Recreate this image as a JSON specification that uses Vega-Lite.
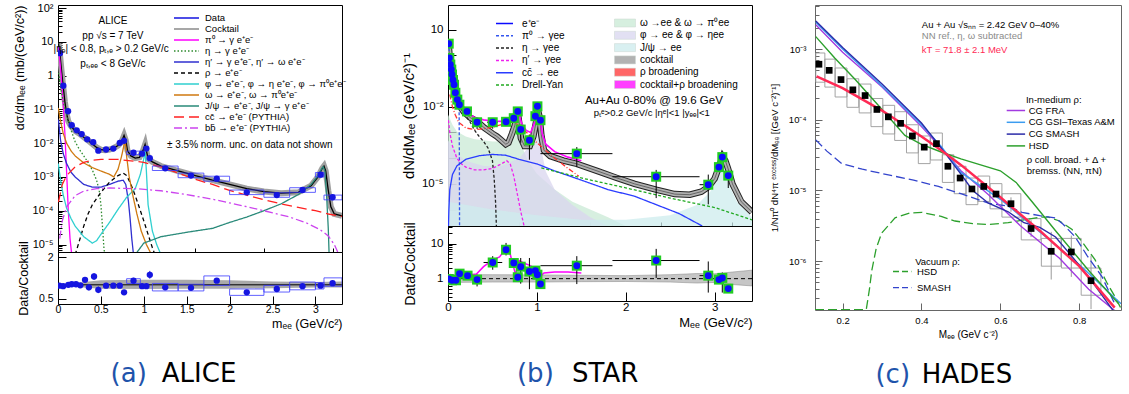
{
"$schema":"https://vega.github.io/schema/vega-lite/v6.json",
"background":"white",
"padding":{"left":12,"top":0,"right":0,"bottom":0},
"config":{
 "view":{"stroke":"black","strokeWidth":1},
 "font":"Liberation Sans",
 "axis":{"domain":false,"grid":false,"tickColor":"black","labelColor":"black","titleColor":"black","labelFont":"Liberation Sans","titleFont":"Liberation Sans","titleFontWeight":"normal","labelOverlap":false,"labelFlush":false,"tickWidth":1},
 "legend":{"labelFont":"Liberation Sans","labelColor":"black","padding":0,"labelLimit":300}
},
"resolve":{"scale":{"color":"independent","fill":"independent","stroke":"independent","strokeDash":"independent"},"legend":{"color":"independent","fill":"independent","stroke":"independent","strokeDash":"independent"}},
"datasets":{
"aData":[{"x":0.023,"y":4.6},{"x":0.062,"y":0.5},{"x":0.117,"y":0.088},{"x":0.16,"y":0.034},{"x":0.218,"y":0.024},{"x":0.276,"y":0.0186},{"x":0.34,"y":0.013},{"x":0.41,"y":0.0107},{"x":0.47,"y":0.006},{"x":0.56,"y":0.0065},{"x":0.645,"y":0.0069},{"x":0.72,"y":0.0102},{"x":0.77,"y":0.0117},{"x":0.88,"y":0.0052},{"x":0.98,"y":0.0049},{"x":1.03,"y":0.0069},{"x":1.07,"y":0.0036},{"x":1.25,"y":0.0018},{"x":1.55,"y":0.0011},{"x":1.85,"y":0.00089},{"x":2.2,"y":0.00035},{"x":2.55,"y":0.00029},{"x":2.85,"y":0.00041},{"x":3.06,"y":0.00117},{"x":3.2,"y":0.00025}],
"aBox":[{"x1":0.8,"x2":0.96,"lo":0.0046,"hi":0.0058},{"x1":1.1,"x2":1.4,"lo":0.00155,"hi":0.0021},{"x1":1.4,"x2":1.7,"lo":0.00095,"hi":0.0013},{"x1":1.7,"x2":2.0,"lo":0.00075,"hi":0.00105},{"x1":2.0,"x2":2.4,"lo":0.0003,"hi":0.00041},{"x1":2.4,"x2":2.7,"lo":0.00025,"hi":0.00034},{"x1":2.7,"x2":3.0,"lo":0.00035,"hi":0.00048},{"x1":3.0,"x2":3.1,"lo":0.001,"hi":0.00135},{"x1":3.1,"x2":3.31,"lo":0.00021,"hi":0.00029}],
"aCock":[{"x":0.005,"y":9},{"x":0.02,"y":5},{"x":0.04,"y":1.5},{"x":0.06,"y":0.5},{"x":0.08,"y":0.17},{"x":0.1,"y":0.075},{"x":0.12,"y":0.045},{"x":0.15,"y":0.032},{"x":0.2,"y":0.023},{"x":0.25,"y":0.019},{"x":0.3,"y":0.015},{"x":0.35,"y":0.012},{"x":0.4,"y":0.0095},{"x":0.45,"y":0.0075},{"x":0.5,"y":0.0064},{"x":0.55,"y":0.0062},{"x":0.6,"y":0.0065},{"x":0.65,"y":0.0072},{"x":0.7,"y":0.0085},{"x":0.74,"y":0.011},{"x":0.77,"y":0.017},{"x":0.79,"y":0.012},{"x":0.81,"y":0.006},{"x":0.85,"y":0.0042},{"x":0.9,"y":0.0036},{"x":0.95,"y":0.0038},{"x":0.99,"y":0.006},{"x":1.015,"y":0.0092},{"x":1.03,"y":0.006},{"x":1.05,"y":0.0035},{"x":1.1,"y":0.0028},{"x":1.2,"y":0.0021},{"x":1.4,"y":0.0015},{"x":1.6,"y":0.0011},{"x":1.8,"y":0.0008},{"x":2.0,"y":0.0006},{"x":2.2,"y":0.00045},{"x":2.4,"y":0.00037},{"x":2.6,"y":0.00033},{"x":2.8,"y":0.00035},{"x":2.95,"y":0.00055},{"x":3.03,"y":0.001},{"x":3.08,"y":0.0018},{"x":3.1,"y":0.0021},{"x":3.12,"y":0.0015},{"x":3.15,"y":0.0004},{"x":3.18,"y":0.00013},{"x":3.22,"y":0.00008},{"x":3.31,"y":0.00007}],
"aCurves":[
{"s":"pi0","x":0.003,"y":7},{"s":"pi0","x":0.02,"y":3},{"s":"pi0","x":0.04,"y":0.8},{"s":"pi0","x":0.06,"y":0.15},{"s":"pi0","x":0.08,"y":0.02},{"s":"pi0","x":0.1,"y":0.0015},{"s":"pi0","x":0.12,"y":0.0001},{"s":"pi0","x":0.14,"y":1.5e-5},{"s":"pi0","x":0.16,"y":5e-6},
{"s":"eta","x":0.005,"y":1.2},{"s":"eta","x":0.03,"y":0.45},{"s":"eta","x":0.06,"y":0.17},{"s":"eta","x":0.1,"y":0.07},{"s":"eta","x":0.15,"y":0.025},{"s":"eta","x":0.2,"y":0.011},{"s":"eta","x":0.25,"y":0.0065},{"s":"eta","x":0.3,"y":0.0042},{"s":"eta","x":0.35,"y":0.0027},{"s":"eta","x":0.4,"y":0.0016},{"s":"eta","x":0.45,"y":0.0008},{"s":"eta","x":0.48,"y":0.0004},{"s":"eta","x":0.5,"y":0.00015},{"s":"eta","x":0.52,"y":3e-5},{"s":"eta","x":0.535,"y":8e-6},{"s":"eta","x":0.545,"y":5e-6},
{"s":"etap","x":0.005,"y":0.05},{"s":"etap","x":0.03,"y":0.012},{"s":"etap","x":0.06,"y":0.005},{"s":"etap","x":0.1,"y":0.0025},{"s":"etap","x":0.15,"y":0.0014},{"s":"etap","x":0.2,"y":0.001},{"s":"etap","x":0.3,"y":0.0006},{"s":"etap","x":0.4,"y":0.0005},{"s":"etap","x":0.5,"y":0.0005},{"s":"etap","x":0.6,"y":0.0006},{"s":"etap","x":0.7,"y":0.00075},{"s":"etap","x":0.76,"y":0.0008},{"s":"etap","x":0.79,"y":0.0006},{"s":"etap","x":0.82,"y":0.0002},{"s":"etap","x":0.84,"y":6e-5},{"s":"etap","x":0.86,"y":1.5e-5},{"s":"etap","x":0.88,"y":5e-6},
{"s":"rho","x":0.2,"y":5e-6},{"s":"rho","x":0.25,"y":1.3e-5},{"s":"rho","x":0.3,"y":3.5e-5},{"s":"rho","x":0.35,"y":8e-5},{"s":"rho","x":0.4,"y":0.00015},{"s":"rho","x":0.5,"y":0.00035},{"s":"rho","x":0.6,"y":0.0007},{"s":"rho","x":0.7,"y":0.0011},{"s":"rho","x":0.76,"y":0.0013},{"s":"rho","x":0.8,"y":0.0011},{"s":"rho","x":0.85,"y":0.0006},{"s":"rho","x":0.9,"y":0.00028},{"s":"rho","x":0.95,"y":0.00012},{"s":"rho","x":1.0,"y":5e-5},{"s":"rho","x":1.05,"y":2e-5},{"s":"rho","x":1.1,"y":8e-6},{"s":"rho","x":1.13,"y":5e-6},
{"s":"phi","x":0.003,"y":0.0025},{"s":"phi","x":0.03,"y":0.0008},{"s":"phi","x":0.06,"y":0.0003},{"s":"phi","x":0.1,"y":0.00012},{"s":"phi","x":0.15,"y":6e-5},{"s":"phi","x":0.2,"y":3.5e-5},{"s":"phi","x":0.3,"y":1.7e-5},{"s":"phi","x":0.4,"y":1.1e-5},{"s":"phi","x":0.45,"y":1.3e-5},{"s":"phi","x":0.5,"y":2e-5},{"s":"phi","x":0.6,"y":4.5e-5},{"s":"phi","x":0.7,"y":0.00011},{"s":"phi","x":0.8,"y":0.00025},{"s":"phi","x":0.9,"y":0.00045},{"s":"phi","x":0.96,"y":0.0012},{"s":"phi","x":1.0,"y":0.0035},{"s":"phi","x":1.015,"y":0.006},{"s":"phi","x":1.03,"y":0.0015},{"s":"phi","x":1.05,"y":0.00015},{"s":"phi","x":1.1,"y":2.5e-5},{"s":"phi","x":1.15,"y":1e-5},{"s":"phi","x":1.2,"y":5e-6},
{"s":"omega","x":0.003,"y":0.11},{"s":"omega","x":0.03,"y":0.045},{"s":"omega","x":0.06,"y":0.02},{"s":"omega","x":0.1,"y":0.01},{"s":"omega","x":0.15,"y":0.006},{"s":"omega","x":0.2,"y":0.0042},{"s":"omega","x":0.3,"y":0.0026},{"s":"omega","x":0.4,"y":0.0019},{"s":"omega","x":0.5,"y":0.0015},{"s":"omega","x":0.6,"y":0.0012},{"s":"omega","x":0.65,"y":0.001},{"s":"omega","x":0.7,"y":0.0017},{"s":"omega","x":0.74,"y":0.004},{"s":"omega","x":0.77,"y":0.009},{"s":"omega","x":0.785,"y":0.011},{"s":"omega","x":0.8,"y":0.004},{"s":"omega","x":0.83,"y":0.001},{"s":"omega","x":0.87,"y":0.0003},{"s":"omega","x":0.92,"y":8e-5},{"s":"omega","x":0.97,"y":2.5e-5},{"s":"omega","x":1.03,"y":1e-5},{"s":"omega","x":1.09,"y":5e-6},
{"s":"jpsi","x":0.9,"y":5e-6},{"s":"jpsi","x":1.0,"y":1.1e-5},{"s":"jpsi","x":1.2,"y":1.7e-5},{"s":"jpsi","x":1.5,"y":2.3e-5},{"s":"jpsi","x":1.8,"y":3e-5},{"s":"jpsi","x":2.0,"y":4.5e-5},{"s":"jpsi","x":2.2,"y":6.5e-5},{"s":"jpsi","x":2.4,"y":0.0001},{"s":"jpsi","x":2.6,"y":0.00016},{"s":"jpsi","x":2.8,"y":0.0003},{"s":"jpsi","x":2.95,"y":0.0006},{"s":"jpsi","x":3.03,"y":0.0011},{"s":"jpsi","x":3.07,"y":0.0017},{"s":"jpsi","x":3.09,"y":0.002},{"s":"jpsi","x":3.11,"y":0.0015},{"s":"jpsi","x":3.13,"y":0.0003},{"s":"jpsi","x":3.15,"y":3e-5},{"s":"jpsi","x":3.16,"y":5e-6},
{"s":"cc","x":0.005,"y":0.00018},{"s":"cc","x":0.05,"y":0.0006},{"s":"cc","x":0.1,"y":0.0011},{"s":"cc","x":0.2,"y":0.002},{"s":"cc","x":0.3,"y":0.0027},{"s":"cc","x":0.4,"y":0.0031},{"s":"cc","x":0.5,"y":0.0033},{"s":"cc","x":0.7,"y":0.0033},{"s":"cc","x":0.85,"y":0.003},{"s":"cc","x":1.0,"y":0.0027},{"s":"cc","x":1.2,"y":0.002},{"s":"cc","x":1.4,"y":0.0013},{"s":"cc","x":1.6,"y":0.00085},{"s":"cc","x":1.8,"y":0.0006},{"s":"cc","x":2.0,"y":0.0004},{"s":"cc","x":2.2,"y":0.00029},{"s":"cc","x":2.4,"y":0.00021},{"s":"cc","x":2.6,"y":0.00016},{"s":"cc","x":2.8,"y":0.000125},{"s":"cc","x":3.0,"y":0.0001},{"s":"cc","x":3.15,"y":8e-5},{"s":"cc","x":3.31,"y":6.8e-5},
{"s":"bb","x":0.02,"y":1.5e-5},{"s":"bb","x":0.05,"y":5e-5},{"s":"bb","x":0.1,"y":0.00013},{"s":"bb","x":0.2,"y":0.00028},{"s":"bb","x":0.3,"y":0.00038},{"s":"bb","x":0.45,"y":0.00045},{"s":"bb","x":0.6,"y":0.00047},{"s":"bb","x":0.9,"y":0.00045},{"s":"bb","x":1.2,"y":0.00039},{"s":"bb","x":1.5,"y":0.0003},{"s":"bb","x":1.8,"y":0.00022},{"s":"bb","x":2.1,"y":0.00015},{"s":"bb","x":2.4,"y":0.0001},{"s":"bb","x":2.7,"y":6.5e-5},{"s":"bb","x":2.9,"y":4.3e-5},{"s":"bb","x":3.05,"y":2.8e-5},{"s":"bb","x":3.15,"y":1.8e-5},{"s":"bb","x":3.22,"y":1e-5},{"s":"bb","x":3.26,"y":6e-6}],
"aRatio":[{"x":0.015,"r":0.97},{"x":0.06,"r":0.95},{"x":0.12,"r":1.0},{"x":0.16,"r":1.02},{"x":0.21,"r":1.02},{"x":0.26,"r":0.98},{"x":0.315,"r":1.18,"lo":1.1,"hi":1.26},{"x":0.36,"r":0.91,"lo":0.8,"hi":1.02},{"x":0.42,"r":1.3,"lo":1.18,"hi":1.42},{"x":0.47,"r":0.82,"lo":0.7,"hi":0.94},{"x":0.56,"r":0.97},{"x":0.645,"r":0.97},{"x":0.72,"r":0.97},{"x":0.77,"r":0.73},{"x":0.88,"r":1.15,"lo":1.05,"hi":1.25},{"x":0.98,"r":0.95},{"x":1.03,"r":0.95},{"x":1.07,"r":1.36,"lo":1.22,"hi":1.5},{"x":1.25,"r":0.91},{"x":1.55,"r":0.89},{"x":1.85,"r":1.15},{"x":2.2,"r":0.73},{"x":2.55,"r":0.85},{"x":2.85,"r":0.95},{"x":3.06,"r":0.97},{"x":3.2,"r":1.06}],
"aRBox":[{"x1":0.8,"x2":0.96,"lo":1.05,"hi":1.22},{"x1":1.1,"x2":1.4,"lo":0.78,"hi":1.05},{"x1":1.4,"x2":1.7,"lo":0.78,"hi":1.02},{"x1":1.7,"x2":2.0,"lo":0.98,"hi":1.32},{"x1":2.0,"x2":2.4,"lo":0.62,"hi":0.85},{"x1":2.4,"x2":2.7,"lo":0.74,"hi":0.98},{"x1":2.7,"x2":3.0,"lo":0.82,"hi":1.1},{"x1":3.0,"x2":3.1,"lo":0.85,"hi":1.08},{"x1":3.1,"x2":3.31,"lo":0.95,"hi":1.25}],
"aBand":[{"x":0,"lo":0.96,"hi":1.04},{"x":0.2,"lo":0.95,"hi":1.05},{"x":0.3,"lo":0.9,"hi":1.1},{"x":0.5,"lo":0.86,"hi":1.16},{"x":1.0,"lo":0.85,"hi":1.18},{"x":1.5,"lo":0.86,"hi":1.18},{"x":2.0,"lo":0.86,"hi":1.16},{"x":2.5,"lo":0.88,"hi":1.12},{"x":3.0,"lo":0.9,"hi":1.1},{"x":3.31,"lo":0.9,"hi":1.12}],
"sData":[{"x":0.008,"y":2.85},{"x":0.015,"y":0.79},{"x":0.026,"y":0.44},{"x":0.037,"y":0.28},{"x":0.045,"y":0.18},{"x":0.056,"y":0.11},{"x":0.068,"y":0.072},{"x":0.083,"y":0.035},{"x":0.105,"y":0.019},{"x":0.128,"y":0.012},{"x":0.214,"y":0.0066,"xlo":0.16,"xhi":0.27},{"x":0.327,"y":0.0025,"lo":0.00137,"hi":0.0037,"xlo":0.27,"xhi":0.38},{"x":0.503,"y":0.0025,"lo":0.0014,"hi":0.0036,"xlo":0.44,"xhi":0.56},{"x":0.653,"y":0.0026,"lo":0.0019,"hi":0.0034},{"x":0.74,"y":0.0036},{"x":0.785,"y":0.0066},{"x":0.818,"y":0.0013,"lo":0.0004,"hi":0.002},{"x":0.916,"y":0.0005,"lo":8.7e-5,"hi":0.0008},{"x":0.983,"y":0.0043},{"x":1.006,"y":0.0104},{"x":1.04,"y":0.003},{"x":1.449,"y":0.00015,"lo":4.6e-5,"hi":0.00027,"xlo":1.04,"xhi":1.85},{"x":2.342,"y":1.9e-5,"lo":2.8e-6,"hi":3.5e-5,"xlo":1.85,"xhi":2.83},{"x":2.928,"y":9.3e-6,"lo":1.6e-6,"hi":2.3e-5,"xlo":2.83,"xhi":2.97},{"x":3.048,"y":4.5e-5},{"x":3.086,"y":0.00011},{"x":3.153,"y":2.1e-5,"lo":6.9e-6,"hi":3.1e-5}],
"sCock":[{"x":0.005,"y":3.2},{"x":0.02,"y":0.75},{"x":0.04,"y":0.22},{"x":0.06,"y":0.075},{"x":0.08,"y":0.035},{"x":0.1,"y":0.02},{"x":0.13,"y":0.011},{"x":0.18,"y":0.0062},{"x":0.25,"y":0.0038},{"x":0.33,"y":0.0027},{"x":0.4,"y":0.0016},{"x":0.45,"y":0.0012},{"x":0.5,"y":0.0009},{"x":0.55,"y":0.0007},{"x":0.6,"y":0.0005},{"x":0.65,"y":0.00035},{"x":0.68,"y":0.0004},{"x":0.72,"y":0.0009},{"x":0.75,"y":0.0018},{"x":0.77,"y":0.0035},{"x":0.785,"y":0.006},{"x":0.8,"y":0.0025},{"x":0.82,"y":0.0006},{"x":0.86,"y":0.0003},{"x":0.92,"y":0.0003},{"x":0.96,"y":0.0007},{"x":0.99,"y":0.0025},{"x":1.01,"y":0.008},{"x":1.03,"y":0.004},{"x":1.05,"y":0.0008},{"x":1.08,"y":0.0002},{"x":1.15,"y":0.00012},{"x":1.3,"y":8e-5},{"x":1.45,"y":6e-5},{"x":1.7,"y":3e-5},{"x":1.9,"y":1.7e-5},{"x":2.1,"y":1e-5},{"x":2.34,"y":6e-6},{"x":2.55,"y":4e-6},{"x":2.72,"y":3.8e-6},{"x":2.85,"y":5e-6},{"x":2.93,"y":7.6e-6},{"x":3.0,"y":1.6e-5},{"x":3.05,"y":4.8e-5},{"x":3.09,"y":0.000115},{"x":3.12,"y":8e-5},{"x":3.15,"y":4e-5},{"x":3.2,"y":1e-5},{"x":3.3,"y":2e-6},{"x":3.42,"y":8e-7}],
"sExtra":[
{"s":"rhob","x":0.02,"y":0.03},{"s":"rhob","x":0.05,"y":0.01},{"s":"rhob","x":0.08,"y":0.005},{"s":"rhob","x":0.12,"y":0.0025},{"s":"rhob","x":0.2,"y":0.0015},{"s":"rhob","x":0.3,"y":0.0013},{"s":"rhob","x":0.4,"y":0.0014},{"s":"rhob","x":0.5,"y":0.0016},{"s":"rhob","x":0.6,"y":0.002},{"s":"rhob","x":0.7,"y":0.0024},{"s":"rhob","x":0.75,"y":0.0025},{"s":"rhob","x":0.8,"y":0.0018},{"s":"rhob","x":0.9,"y":0.0009},{"s":"rhob","x":1.0,"y":0.0004},{"s":"rhob","x":1.1,"y":0.0002},{"s":"rhob","x":1.2,"y":0.0001},{"s":"rhob","x":1.35,"y":4e-5},{"s":"rhob","x":1.47,"y":2e-5},
{"s":"cockrho","x":0.2,"y":0.0065},{"s":"cockrho","x":0.3,"y":0.0038},{"s":"cockrho","x":0.4,"y":0.0031},{"s":"cockrho","x":0.5,"y":0.0028},{"s":"cockrho","x":0.6,"y":0.0027},{"s":"cockrho","x":0.65,"y":0.0028},{"s":"cockrho","x":0.7,"y":0.0033},{"s":"cockrho","x":0.75,"y":0.0045},{"s":"cockrho","x":0.785,"y":0.0075},{"s":"cockrho","x":0.8,"y":0.005},{"s":"cockrho","x":0.83,"y":0.0022},{"s":"cockrho","x":0.88,"y":0.0012},{"s":"cockrho","x":0.93,"y":0.001},{"s":"cockrho","x":0.98,"y":0.0028},{"s":"cockrho","x":1.01,"y":0.0105},{"s":"cockrho","x":1.03,"y":0.005},{"s":"cockrho","x":1.06,"y":0.0009},{"s":"cockrho","x":1.1,"y":0.00035},{"s":"cockrho","x":1.2,"y":0.00018},{"s":"cockrho","x":1.35,"y":0.00011},{"s":"cockrho","x":1.5,"y":8e-5}],
"sLines":[
{"s":"pi0","x":0.005,"y":3},{"s":"pi0","x":0.03,"y":0.5},{"s":"pi0","x":0.06,"y":0.1},{"s":"pi0","x":0.09,"y":0.03},{"s":"pi0","x":0.115,"y":0.012},{"s":"pi0","x":0.125,"y":0.008},{"s":"pi0","x":0.128,"y":0.0001},{"s":"pi0","x":0.13,"y":2e-7},
{"s":"eta","x":0.005,"y":0.6},{"s":"eta","x":0.03,"y":0.15},{"s":"eta","x":0.06,"y":0.05},{"s":"eta","x":0.1,"y":0.018},{"s":"eta","x":0.15,"y":0.008},{"s":"eta","x":0.2,"y":0.0045},{"s":"eta","x":0.25,"y":0.0025},{"s":"eta","x":0.3,"y":0.0012},{"s":"eta","x":0.35,"y":0.0007},{"s":"eta","x":0.4,"y":0.00045},{"s":"eta","x":0.45,"y":0.00025},{"s":"eta","x":0.5,"y":8e-5},{"s":"eta","x":0.52,"y":1.5e-5},{"s":"eta","x":0.535,"y":2e-6},{"s":"eta","x":0.545,"y":2e-7},
{"s":"etap","x":0.005,"y":0.003},{"s":"etap","x":0.02,"y":0.001},{"s":"etap","x":0.05,"y":0.0003},{"s":"etap","x":0.1,"y":0.0001},{"s":"etap","x":0.15,"y":6e-5},{"s":"etap","x":0.2,"y":4.5e-5},{"s":"etap","x":0.3,"y":3.5e-5},{"s":"etap","x":0.4,"y":3.5e-5},{"s":"etap","x":0.5,"y":4e-5},{"s":"etap","x":0.6,"y":6e-5},{"s":"etap","x":0.66,"y":8e-5},{"s":"etap","x":0.7,"y":6e-5},{"s":"etap","x":0.74,"y":2e-5},{"s":"etap","x":0.78,"y":4e-6},{"s":"etap","x":0.82,"y":8e-7},{"s":"etap","x":0.86,"y":2e-7},
{"s":"cc","x":0.005,"y":2.3e-7},{"s":"cc","x":0.01,"y":1e-6},{"s":"cc","x":0.02,"y":6e-6},{"s":"cc","x":0.05,"y":2.3e-5},{"s":"cc","x":0.1,"y":5e-5},{"s":"cc","x":0.2,"y":9e-5},{"s":"cc","x":0.35,"y":0.000125},{"s":"cc","x":0.5,"y":0.00014},{"s":"cc","x":0.65,"y":0.00013},{"s":"cc","x":0.8,"y":9e-5},{"s":"cc","x":1.0,"y":6e-5},{"s":"cc","x":1.2,"y":3.2e-5},{"s":"cc","x":1.5,"y":1.4e-5},{"s":"cc","x":1.8,"y":6e-6},{"s":"cc","x":2.1,"y":3.3e-6},{"s":"cc","x":2.4,"y":1.3e-6},{"s":"cc","x":2.6,"y":7e-7},{"s":"cc","x":2.86,"y":2.3e-7},
{"s":"dy","x":1.05,"y":4.2e-5},{"s":"dy","x":1.5,"y":1.7e-5},{"s":"dy","x":2.0,"y":7e-6},{"s":"dy","x":2.5,"y":2.8e-6},{"s":"dy","x":3.0,"y":1.2e-6},{"s":"dy","x":3.42,"y":4e-7}],
"sFill":[
{"s":"omega","x":0.0,"y":0.005},{"s":"omega","x":0.05,"y":0.002},{"s":"omega","x":0.1,"y":0.0011},{"s":"omega","x":0.2,"y":0.0007},{"s":"omega","x":0.3,"y":0.00055},{"s":"omega","x":0.4,"y":0.0005},{"s":"omega","x":0.5,"y":0.00045},{"s":"omega","x":0.6,"y":0.00045},{"s":"omega","x":0.7,"y":0.0006},{"s":"omega","x":0.75,"y":0.0015},{"s":"omega","x":0.78,"y":0.003},{"s":"omega","x":0.8,"y":0.001},{"s":"omega","x":0.85,"y":0.0002},{"s":"omega","x":0.9,"y":8e-5},{"s":"omega","x":1.0,"y":2.5e-5},{"s":"omega","x":1.2,"y":6e-6},{"s":"omega","x":1.4,"y":2e-6},{"s":"omega","x":1.6,"y":1e-6},{"s":"omega","x":1.8,"y":5e-7},{"s":"omega","x":2.0,"y":2.3e-7},
{"s":"phi","x":0.0,"y":0.0005},{"s":"phi","x":0.1,"y":0.00015},{"s":"phi","x":0.2,"y":8e-5},{"s":"phi","x":0.4,"y":5e-5},{"s":"phi","x":0.6,"y":5e-5},{"s":"phi","x":0.8,"y":0.0001},{"s":"phi","x":0.9,"y":0.00025},{"s":"phi","x":0.96,"y":0.0008},{"s":"phi","x":1.0,"y":0.003},{"s":"phi","x":1.015,"y":0.006},{"s":"phi","x":1.03,"y":0.0015},{"s":"phi","x":1.06,"y":0.00015},{"s":"phi","x":1.1,"y":3e-5},{"s":"phi","x":1.2,"y":6e-6},{"s":"phi","x":1.4,"y":1.5e-6},{"s":"phi","x":1.6,"y":5e-7},{"s":"phi","x":1.8,"y":2.3e-7},
{"s":"jpsi","x":0.0,"y":2e-6},{"s":"jpsi","x":0.5,"y":1e-6},{"s":"jpsi","x":1.0,"y":6e-7},{"s":"jpsi","x":1.5,"y":4e-7},{"s":"jpsi","x":2.0,"y":4e-7},{"s":"jpsi","x":2.5,"y":6e-7},{"s":"jpsi","x":2.8,"y":1.5e-6},{"s":"jpsi","x":2.95,"y":5e-6},{"s":"jpsi","x":3.02,"y":1.5e-5},{"s":"jpsi","x":3.06,"y":5e-5},{"s":"jpsi","x":3.09,"y":0.00011},{"s":"jpsi","x":3.12,"y":6e-5},{"s":"jpsi","x":3.16,"y":1e-5},{"s":"jpsi","x":3.25,"y":2e-6},{"s":"jpsi","x":3.42,"y":5e-7}],
"sRatio":[{"x":0.008,"r":0.98},{"x":0.045,"r":0.9},{"x":0.09,"r":0.9},{"x":0.13,"r":1.39},{"x":0.22,"r":1.22,"xlo":0.16,"xhi":0.27},{"x":0.327,"r":0.94,"lo":0.6,"hi":1.3,"xlo":0.27,"xhi":0.38},{"x":0.503,"r":2.9,"lo":1.8,"hi":4.4,"xlo":0.4,"xhi":0.61},{"x":0.653,"r":6.7,"lo":4.6,"hi":10.5},{"x":0.74,"r":2.8},{"x":0.785,"r":1.1},{"x":0.818,"r":2.2,"lo":0.72,"hi":3.9},{"x":0.916,"r":1.6,"lo":0.5,"hi":3.9},{"x":0.983,"r":1.7},{"x":1.006,"r":1.3},{"x":1.04,"r":0.7},{"x":1.449,"r":2.35,"lo":0.7,"hi":4.4,"xlo":1.04,"xhi":1.85},{"x":2.342,"r":3.3,"lo":1.05,"hi":7.1,"xlo":1.85,"xhi":2.83},{"x":2.928,"r":1.22,"lo":0.4,"hi":3.1,"xlo":2.83,"xhi":2.97},{"x":3.048,"r":0.94},{"x":3.086,"r":1.05,"lo":0.4,"hi":1.5},{"x":3.153,"r":0.52}],
"sRBand":[{"x":0,"lo":0.78,"hi":1.3},{"x":0.5,"lo":0.8,"hi":1.3},{"x":1.0,"lo":0.8,"hi":1.28},{"x":1.5,"lo":0.82,"hi":1.25},{"x":2.0,"lo":0.83,"hi":1.22},{"x":2.5,"lo":0.8,"hi":1.3},{"x":2.8,"lo":0.75,"hi":1.4},{"x":3.0,"lo":0.78,"hi":1.38},{"x":3.2,"lo":0.68,"hi":1.55},{"x":3.42,"lo":0.62,"hi":1.75}],
"sRCurve":[{"x":0,"r":0.95},{"x":0.03,"r":1.3},{"x":0.08,"r":1.2},{"x":0.15,"r":1.25},{"x":0.25,"r":1.3},{"x":0.32,"r":1.35},{"x":0.4,"r":2.2},{"x":0.5,"r":3.4},{"x":0.58,"r":4.2},{"x":0.65,"r":7.2},{"x":0.7,"r":5},{"x":0.76,"r":1.3},{"x":0.8,"r":3.3},{"x":0.85,"r":2.8},{"x":0.92,"r":2.4},{"x":0.97,"r":2},{"x":1.02,"r":1.05},{"x":1.08,"r":1.45},{"x":1.2,"r":1.55},{"x":1.35,"r":1.55},{"x":1.5,"r":1.45}],
"hData":[{"x":0.14,"y":0.00061,"x1":0.132,"x2":0.155,"lo":0.00034,"hi":0.00088},{"x":0.166,"y":0.0005,"x1":0.155,"x2":0.181,"lo":0.00029,"hi":0.00072},{"x":0.196,"y":0.00037,"x1":0.181,"x2":0.211,"lo":0.00021,"hi":0.00054},{"x":0.226,"y":0.000265,"x1":0.211,"x2":0.241,"lo":0.00015,"hi":0.00038},{"x":0.257,"y":0.00022,"x1":0.242,"x2":0.272,"lo":0.000125,"hi":0.00032},{"x":0.287,"y":0.00014,"x1":0.272,"x2":0.302,"lo":8e-5,"hi":0.0002},{"x":0.316,"y":0.00011,"x1":0.302,"x2":0.332,"lo":6.3e-5,"hi":0.00016},{"x":0.347,"y":8.9e-5,"x1":0.332,"x2":0.362,"lo":5.1e-5,"hi":0.00013},{"x":0.377,"y":5.9e-5,"x1":0.362,"x2":0.392,"lo":3.4e-5,"hi":8.5e-5},{"x":0.407,"y":4.1e-5,"x1":0.392,"x2":0.422,"lo":2.4e-5,"hi":5.9e-5},{"x":0.438,"y":4.6e-5,"x1":0.423,"x2":0.453,"lo":2.7e-5,"hi":6.5e-5},{"x":0.467,"y":2.2e-5,"x1":0.453,"x2":0.482,"lo":1.3e-5,"hi":3.2e-5},{"x":0.498,"y":1.5e-5,"x1":0.483,"x2":0.513,"lo":9e-6,"hi":2.2e-5},{"x":0.528,"y":1.05e-5,"x1":0.513,"x2":0.543,"lo":6.3e-6,"hi":1.5e-5},{"x":0.558,"y":1.14e-5,"x1":0.543,"x2":0.573,"lo":7e-6,"hi":1.6e-5},{"x":0.589,"y":8.9e-6,"x1":0.574,"x2":0.604,"lo":5.5e-6,"hi":1.25e-5},{"x":0.627,"y":6.5e-6,"x1":0.604,"x2":0.652,"lo":4.2e-6,"hi":9e-6,"elo":5e-6,"ehi":8e-6},{"x":0.678,"y":2.9e-6,"x1":0.653,"x2":0.703,"lo":2e-6,"hi":4e-6,"elo":2.2e-6,"ehi":3.8e-6},{"x":0.729,"y":1.38e-6,"x1":0.704,"x2":0.754,"lo":8.5e-7,"hi":2.1e-6,"elo":5.5e-7,"ehi":2.6e-6},{"x":0.78,"y":1.35e-6,"x1":0.755,"x2":0.805,"lo":8e-7,"hi":2.1e-6,"elo":6e-7,"ehi":2.3e-6},{"x":0.83,"y":5.3e-7,"x1":0.805,"x2":0.855,"lo":3.3e-7,"hi":8e-7,"elo":2.1e-7,"ehi":1.2e-6}],
"hLines":[
{"s":"fra","x":0.132,"y":0.0022},{"s":"fra","x":0.2,"y":0.0009},{"s":"fra","x":0.3,"y":0.00029},{"s":"fra","x":0.4,"y":8e-5},{"s":"fra","x":0.45,"y":4e-5},{"s":"fra","x":0.5,"y":1.9e-5},{"s":"fra","x":0.57,"y":8.7e-6},{"s":"fra","x":0.65,"y":3.2e-6},{"s":"fra","x":0.75,"y":1.1e-6},{"s":"fra","x":0.824,"y":4e-7},{"s":"fra","x":0.89,"y":2e-7},
{"s":"gsi","x":0.132,"y":0.0024},{"s":"gsi","x":0.2,"y":0.001},{"s":"gsi","x":0.3,"y":0.0003},{"s":"gsi","x":0.4,"y":8.5e-5},{"s":"gsi","x":0.45,"y":4.2e-5},{"s":"gsi","x":0.5,"y":1.8e-5},{"s":"gsi","x":0.6,"y":7.5e-6},{"s":"gsi","x":0.7,"y":2.6e-6},{"s":"gsi","x":0.8,"y":9e-7},{"s":"gsi","x":0.906,"y":2.5e-7},
{"s":"smash","x":0.132,"y":0.0025},{"s":"smash","x":0.2,"y":0.00105},{"s":"smash","x":0.3,"y":0.00032},{"s":"smash","x":0.4,"y":9e-5},{"s":"smash","x":0.45,"y":4e-5},{"s":"smash","x":0.5,"y":1.7e-5},{"s":"smash","x":0.53,"y":1e-5},{"s":"smash","x":0.57,"y":6.6e-6},{"s":"smash","x":0.62,"y":5e-6},{"s":"smash","x":0.66,"y":3.5e-6},{"s":"smash","x":0.7,"y":3e-6},{"s":"smash","x":0.74,"y":2.2e-6},{"s":"smash","x":0.78,"y":1.2e-6},{"s":"smash","x":0.824,"y":6e-7},{"s":"smash","x":0.886,"y":2e-7},
{"s":"hsd","x":0.132,"y":0.0015},{"s":"hsd","x":0.18,"y":0.00075},{"s":"hsd","x":0.232,"y":0.00037},{"s":"hsd","x":0.3,"y":0.00014},{"s":"hsd","x":0.358,"y":6e-5},{"s":"hsd","x":0.4,"y":4.5e-5},{"s":"hsd","x":0.45,"y":3.5e-5},{"s":"hsd","x":0.5,"y":2.8e-5},{"s":"hsd","x":0.55,"y":2.3e-5},{"s":"hsd","x":0.6,"y":1.9e-5},{"s":"hsd","x":0.64,"y":1.3e-5},{"s":"hsd","x":0.68,"y":7e-6},{"s":"hsd","x":0.74,"y":2.7e-6},{"s":"hsd","x":0.824,"y":7.4e-7},{"s":"hsd","x":0.9,"y":2.5e-7}],
"hFit":[{"x":0.134,"y":0.00041},{"x":0.2,"y":0.00028},{"x":0.3,"y":0.000135},{"x":0.4,"y":5.8e-5},{"x":0.45,"y":3.7e-5},{"x":0.5,"y":2.3e-5},{"x":0.6,"y":8e-6},{"x":0.7,"y":2.7e-6},{"x":0.8,"y":8.5e-7},{"x":0.89,"y":2.2e-7}],
"hVac":[
{"s":"vhsd","x":0.13,"y":2.06e-7},{"s":"vhsd","x":0.26,"y":2.06e-7},{"s":"vhsd","x":0.268,"y":4e-7},{"s":"vhsd","x":0.274,"y":7.4e-7},{"s":"vhsd","x":0.285,"y":1.5e-6},{"s":"vhsd","x":0.299,"y":2.5e-6},{"s":"vhsd","x":0.333,"y":4.1e-6},{"s":"vhsd","x":0.37,"y":4.8e-6},{"s":"vhsd","x":0.401,"y":4.9e-6},{"s":"vhsd","x":0.45,"y":4.3e-6},{"s":"vhsd","x":0.485,"y":3.7e-6},{"s":"vhsd","x":0.53,"y":3.4e-6},{"s":"vhsd","x":0.57,"y":3.3e-6},{"s":"vhsd","x":0.62,"y":3.5e-6},{"s":"vhsd","x":0.655,"y":3.8e-6},{"s":"vhsd","x":0.7,"y":4.2e-6},{"s":"vhsd","x":0.722,"y":4.2e-6},{"s":"vhsd","x":0.75,"y":3.7e-6},{"s":"vhsd","x":0.782,"y":2.8e-6},{"s":"vhsd","x":0.81,"y":1.8e-6},{"s":"vhsd","x":0.84,"y":1.05e-6},{"s":"vhsd","x":0.87,"y":5e-7},{"s":"vhsd","x":0.89,"y":3.2e-7},{"s":"vhsd","x":0.905,"y":2.2e-7},
{"s":"vsmash","x":0.132,"y":5.2e-5},{"s":"vsmash","x":0.16,"y":3.6e-5},{"s":"vsmash","x":0.198,"y":2.4e-5},{"s":"vsmash","x":0.25,"y":2e-5},{"s":"vsmash","x":0.316,"y":1.66e-5},{"s":"vsmash","x":0.38,"y":1.4e-5},{"s":"vsmash","x":0.443,"y":1.14e-5},{"s":"vsmash","x":0.5,"y":9e-6},{"s":"vsmash","x":0.57,"y":6.6e-6},{"s":"vsmash","x":0.62,"y":6e-6},{"s":"vsmash","x":0.655,"y":4.9e-6},{"s":"vsmash","x":0.7,"y":4.4e-6},{"s":"vsmash","x":0.739,"y":4.1e-6},{"s":"vsmash","x":0.76,"y":3.3e-6},{"s":"vsmash","x":0.79,"y":2.2e-6},{"s":"vsmash","x":0.82,"y":1.2e-6},{"s":"vsmash","x":0.858,"y":6e-7},{"s":"vsmash","x":0.89,"y":2.5e-7}]
},
"spacing":53,
"hconcat":[
{"spacing":0,"bounds":"flush","resolve":{"scale":{"color":"independent","fill":"independent","stroke":"independent","strokeDash":"independent"},"legend":{"color":"independent","fill":"independent","stroke":"independent","strokeDash":"independent"}},"vconcat":[
 {"width":284,"height":247,"layer":[
  {"data":{"name":"aCock"},"mark":{"type":"line","color":"#a0a0a0","strokeWidth":6,"clip":true},
   "encoding":{
    "x":{"field":"x","type":"quantitative","scale":{"domain":[0,3.31],"nice":false,"zero":false},"axis":{"values":[0,0.1,0.2,0.3,0.4,0.5,0.6,0.7,0.8,0.9,1,1.1,1.2,1.3,1.4,1.5,1.6,1.7,1.8,1.9,2,2.1,2.2,2.3,2.4,2.5,2.6,2.7,2.8,2.9,3,3.1,3.2,3.3],"labels":false,"title":null,"tickSize":{"condition":{"test":"abs(datum.value*2-round(datum.value*2))<0.001","value":-8},"value":-4}}},
    "y":{"field":"y","type":"quantitative","scale":{"type":"log","domain":[6e-6,123],"nice":false},"axis":{"values":[6e-6,7e-6,8e-6,9e-6,1e-5,2e-5,3e-5,4e-5,5e-5,6e-5,7e-5,8e-5,9e-5,0.0001,0.0002,0.0003,0.0004,0.0005,0.0006,0.0007,0.0008,0.0009,0.001,0.002,0.003,0.004,0.005,0.006,0.007,0.008,0.009,0.01,0.02,0.03,0.04,0.05,0.06,0.07,0.08,0.09,0.1,0.2,0.3,0.4,0.5,0.6,0.7,0.8,0.9,1,2,3,4,5,6,7,8,9,10,20,30,40,50,60,70,80,90,100],"title":"dσ/dmₑₑ (mb/(GeV/c²))","titleFontSize":12.5,"titleAnchor":"end","titlePadding":6,"labelFontSize":11,"labelPadding":13,"labelOverlap":false,"labelExpr":"abs(log(datum.value)/LN10-round(log(datum.value)/LN10))>0.01?'':['10⁻⁵','10⁻⁴','10⁻³','10⁻²','10⁻¹','1','10','10²'][round(log(datum.value)/LN10)+5]","tickSize":{"condition":{"test":"abs(log(datum.value)/LN10-round(log(datum.value)/LN10))<0.01","value":-8},"value":-4}}}}},
  {"data":{"name":"aCock"},"mark":{"type":"line","color":"black","strokeWidth":1.3,"clip":true},
   "encoding":{"x":{"field":"x","type":"quantitative"},"y":{"field":"y","type":"quantitative"}}},
  {"data":{"name":"aCurves"},"mark":{"type":"line","strokeWidth":1.3,"clip":true},
   "encoding":{"x":{"field":"x","type":"quantitative"},"y":{"field":"y","type":"quantitative"},
    "color":{"field":"s","type":"nominal","scale":{"domain":["data","cocktail","pi0","eta","etap","rho","phi","omega","jpsi","cc","bb"],"range":["#1515e0","#8a8a8a","#ff00ff","#2e8b2e","#3030d0","#000000","#30d0d0","#d07a10","#2a8a7a","#ff2020","#cc44ee"]},
     "legend":{"orient":"none","legendX":115,"legendY":7,"title":null,"labelFontSize":9.5,"symbolSize":100,"symbolType":"M-1,0H4","symbolStrokeWidth":1.3,"rowPadding":0,"labelOffset":20,
      "labelExpr":"datum.value=='data'?'Data':datum.value=='cocktail'?'Cocktail':datum.value=='pi0'?'π⁰ → γ e⁺e⁻':datum.value=='eta'?'η → γ e⁺e⁻':datum.value=='etap'?'η′ → γ e⁺e⁻, η′ → ω e⁺e⁻':datum.value=='rho'?'ρ → e⁺e⁻':datum.value=='phi'?'φ → e⁺e⁻, φ → η e⁺e⁻, φ → π⁰e⁺e⁻':datum.value=='omega'?'ω → e⁺e⁻, ω → π⁰e⁺e⁻':datum.value=='jpsi'?'J/ψ → e⁺e⁻, J/ψ → γ e⁺e⁻':datum.value=='cc'?'cc̄ → e⁺e⁻ (PYTHIA)':'bb̄ → e⁺e⁻ (PYTHIA)'"}},
    "strokeDash":{"field":"s","type":"nominal","scale":{"domain":["data","cocktail","pi0","eta","etap","rho","phi","omega","jpsi","cc","bb"],"range":[[1,0],[1,0],[1,0],[1.5,2],[1,0],[4,3],[1,0],[1,0],[1,0],[10,5],[8,3,2,3]]},
     "legend":{"orient":"none","legendX":115,"legendY":7,"title":null,"labelFontSize":9.5,"symbolSize":100,"symbolType":"M-1,0H4","symbolStrokeWidth":1.3,"rowPadding":0,"labelOffset":20,
      "labelExpr":"datum.value=='data'?'Data':datum.value=='cocktail'?'Cocktail':datum.value=='pi0'?'π⁰ → γ e⁺e⁻':datum.value=='eta'?'η → γ e⁺e⁻':datum.value=='etap'?'η′ → γ e⁺e⁻, η′ → ω e⁺e⁻':datum.value=='rho'?'ρ → e⁺e⁻':datum.value=='phi'?'φ → e⁺e⁻, φ → η e⁺e⁻, φ → π⁰e⁺e⁻':datum.value=='omega'?'ω → e⁺e⁻, ω → π⁰e⁺e⁻':datum.value=='jpsi'?'J/ψ → e⁺e⁻, J/ψ → γ e⁺e⁻':datum.value=='cc'?'cc̄ → e⁺e⁻ (PYTHIA)':'bb̄ → e⁺e⁻ (PYTHIA)'"}}}},
  {"data":{"name":"aBox"},"mark":{"type":"rect","fill":"transparent","stroke":"#3a3aff","strokeWidth":0.8,"clip":true},
   "encoding":{"x":{"field":"x1","type":"quantitative"},"x2":{"field":"x2"},"y":{"field":"lo","type":"quantitative"},"y2":{"field":"hi"}}},
  {"data":{"name":"aData"},"mark":{"type":"circle","color":"#1515e0","size":40,"opacity":1,"clip":true},
   "encoding":{"x":{"field":"x","type":"quantitative"},"y":{"field":"y","type":"quantitative"}}},
  {"data":{"values":[{}]},"mark":{"type":"text","fontSize":10,"align":"center","baseline":"middle"},"encoding":{"x":{"datum":0.64},"y":{"datum":40},"text":{"value":"ALICE"}}},
  {"data":{"values":[{}]},"mark":{"type":"text","fontSize":10,"align":"center","baseline":"middle"},"encoding":{"x":{"datum":0.64},"y":{"datum":14.7},"text":{"value":"pp √s = 7 TeV"}}},
  {"data":{"values":[{}]},"mark":{"type":"text","fontSize":10,"align":"center","baseline":"middle"},"encoding":{"x":{"datum":0.62},"y":{"datum":6.1},"text":{"value":"|ηₑ| < 0.8, pₜ,ₑ > 0.2 GeV/c"}}},
  {"data":{"values":[{}]},"mark":{"type":"text","fontSize":10,"align":"center","baseline":"middle"},"encoding":{"x":{"datum":0.64},"y":{"datum":2.2},"text":{"value":"pₜ,ₑₑ < 8 GeV/c"}}},
  {"data":{"values":[{}]},"mark":{"type":"text","fontSize":10,"align":"left","baseline":"middle"},"encoding":{"x":{"datum":1.27},"y":{"datum":0.0089},"text":{"value":"± 3.5% norm. unc. on data not shown"}}}
 ]},
 {"width":284,"height":52,"layer":[
  {"data":{"name":"aBand"},"mark":{"type":"area","color":"#9a9a9a","opacity":0.85,"clip":true},
   "encoding":{
    "x":{"field":"x","type":"quantitative","scale":{"domain":[0,3.31],"nice":false,"zero":false},"axis":{"values":[0,0.5,1,1.5,2,2.5,3],"format":"~g","title":"mₑₑ (GeV/c²)","titleAnchor":"end","titleFontSize":12.5,"titlePadding":3,"labelFontSize":10.5,"labelPadding":8,"labelOverlap":false,"tickSize":-8}},
    "y":{"field":"lo","type":"quantitative","scale":{"domain":[0.31,2.18],"nice":false,"zero":false},"axis":{"values":[0.5,1,1.5,2],"format":"~g","title":"Data/Cocktail","titleFontSize":12.5,"titlePadding":8,"labelFontSize":10.5,"labelPadding":13,"labelOverlap":false,"tickSize":-8}},
    "y2":{"field":"hi"}}},
  {"data":{"values":[{}]},"mark":{"type":"rule","color":"black","strokeWidth":1},"encoding":{"y":{"datum":1}}},
  {"data":{"name":"aRBox"},"mark":{"type":"rect","fill":"transparent","stroke":"#3a3aff","strokeWidth":0.8,"clip":true},
   "encoding":{"x":{"field":"x1","type":"quantitative"},"x2":{"field":"x2"},"y":{"field":"lo","type":"quantitative"},"y2":{"field":"hi"}}},
  {"data":{"name":"aRatio"},"transform":[{"filter":"isValid(datum.lo)"}],"mark":{"type":"rule","color":"#1515e0","strokeWidth":1,"clip":true},
   "encoding":{"x":{"field":"x","type":"quantitative"},"y":{"field":"lo","type":"quantitative"},"y2":{"field":"hi"}}},
  {"data":{"name":"aRatio"},"mark":{"type":"circle","color":"#1515e0","size":40,"opacity":1,"clip":true},
   "encoding":{"x":{"field":"x","type":"quantitative"},"y":{"field":"r","type":"quantitative"}}},
  {"data":{"values":[{}]},"mark":{"type":"text","font":"DejaVu Sans","fontSize":26,"align":"right","baseline":"alphabetic","color":"#1f54ab"},"encoding":{"x":{"datum":1.035},"y":{"datum":-2.5},"text":{"value":"(a)"}}},
  {"data":{"values":[{}]},"mark":{"type":"text","font":"DejaVu Sans","fontSize":26,"align":"left","baseline":"alphabetic","color":"black"},"encoding":{"x":{"datum":1.21},"y":{"datum":-2.5},"text":{"value":"ALICE"}}}
 ]}
]},
{"spacing":15,"resolve":{"scale":{"color":"independent","fill":"independent","stroke":"independent","strokeDash":"independent"},"legend":{"color":"independent","fill":"independent","stroke":"independent","strokeDash":"independent"}},"hconcat":[
{"spacing":0,"bounds":"flush","resolve":{"scale":{"color":"independent","fill":"independent","stroke":"independent","strokeDash":"independent"},"legend":{"color":"independent","fill":"independent","stroke":"independent","strokeDash":"independent"}},"vconcat":[
 {"width":304,"height":221,"layer":[
  {"data":{"name":"sFill"},"mark":{"type":"area","opacity":0.75,"clip":true},
   "encoding":{
    "x":{"field":"x","type":"quantitative","scale":{"domain":[0,3.42],"nice":false,"zero":false},"axis":{"values":[0,0.1,0.2,0.3,0.4,0.5,0.6,0.7,0.8,0.9,1,1.1,1.2,1.3,1.4,1.5,1.6,1.7,1.8,1.9,2,2.1,2.2,2.3,2.4,2.5,2.6,2.7,2.8,2.9,3,3.1,3.2,3.3,3.4],"labels":false,"title":null,"tickSize":{"condition":{"test":"abs(datum.value-round(datum.value))<0.001","value":-9},"value":-4}}},
    "y":{"field":"y","type":"quantitative","stack":null,"scale":{"type":"log","domain":[2.3e-7,91],"nice":false},"axis":{"values":[1e-6,1e-5,0.0001,0.001,0.01,0.1,1,10],"title":"dN/dMₑₑ (GeV/c²)⁻¹","titleFontSize":15,"titlePadding":5,"labelFontSize":11.5,"labelPadding":13,"labelOverlap":false,"tickSize":-8,"labelExpr":"round(log(datum.value)/LN10)==1?'10':round(log(datum.value)/LN10)==-2?'10⁻²':round(log(datum.value)/LN10)==-5?'10⁻⁵':''"}},
    "y2":{"datum":1e-8},
    "fill":{"field":"s","type":"nominal","scale":{"domain":["omega","phi","jpsi","cocktail","rhob","cockrho"],"range":["#c9ead5","#d9d6ef","#cdeced","#999999","#ff3333","#ff00ff"]},
     "legend":{"orient":"none","legendX":166,"legendY":12.5,"title":null,"labelFontSize":10,"symbolSize":100,"symbolType":"M-1,-0.8H3.2V0.8H-1Z","symbolStrokeColor":"#b8c8c0","symbolStrokeWidth":0.5,"rowPadding":1.3,"labelOffset":15,
      "labelExpr":"datum.value=='omega'?'ω →ee & ω → π⁰ee':datum.value=='phi'?'φ → ee & φ → ηee':datum.value=='jpsi'?'J/ψ → ee':datum.value=='cocktail'?'cocktail':datum.value=='rhob'?'ρ broadening':'cocktail+ρ broadening'"}}}},
  {"data":{"name":"sCock"},"mark":{"type":"line","color":"#222222","strokeWidth":6.5,"clip":true},"encoding":{"x":{"field":"x","type":"quantitative"},"y":{"field":"y","type":"quantitative"}}},
  {"data":{"name":"sCock"},"mark":{"type":"line","color":"#b0b0b0","strokeWidth":4.5,"clip":true},"encoding":{"x":{"field":"x","type":"quantitative"},"y":{"field":"y","type":"quantitative"}}},
  {"data":{"name":"sCock"},"mark":{"type":"line","color":"#444444","strokeWidth":0.7,"clip":true},"encoding":{"x":{"field":"x","type":"quantitative"},"y":{"field":"y","type":"quantitative"}}},
  {"data":{"name":"sExtra"},"transform":[{"filter":"datum.s=='rhob'"}],"mark":{"type":"line","color":"#ff3333","strokeWidth":1.3,"strokeDash":[5,2,1,2],"clip":true},"encoding":{"x":{"field":"x","type":"quantitative"},"y":{"field":"y","type":"quantitative"}}},
  {"data":{"name":"sExtra"},"transform":[{"filter":"datum.s=='cockrho'"}],"mark":{"type":"line","color":"#ff00ff","strokeWidth":1.6,"clip":true},"encoding":{"x":{"field":"x","type":"quantitative"},"y":{"field":"y","type":"quantitative"}}},
  {"data":{"name":"sLines"},"mark":{"type":"line","strokeWidth":1.3,"clip":true},
   "encoding":{"x":{"field":"x","type":"quantitative"},"y":{"field":"y","type":"quantitative"},
    "color":{"field":"s","type":"nominal","scale":{"domain":["ee","pi0","eta","etap","cc","dy"],"range":["#0a0aff","#3355ee","#222222","#ee22ee","#2a3cff","#22aa22"]},
     "legend":{"orient":"none","legendX":47,"legendY":12.5,"title":null,"labelFontSize":10,"symbolSize":100,"symbolType":"M-1,0H2.4","symbolStrokeWidth":1.5,"rowPadding":1.3,"labelOffset":15,
      "labelExpr":"datum.value=='ee'?'e⁺e⁻':datum.value=='pi0'?'π⁰ → γee':datum.value=='eta'?'η → γee':datum.value=='etap'?'η′ → γee':datum.value=='cc'?'cc̄ → ee':'Drell-Yan'"}},
    "strokeDash":{"field":"s","type":"nominal","scale":{"domain":["ee","pi0","eta","etap","cc","dy"],"range":[[1,0],[3,2],[3,2],[3,2],[1,0],[3,2]]},
     "legend":{"orient":"none","legendX":47,"legendY":12.5,"title":null,"labelFontSize":10,"symbolSize":100,"symbolType":"M-1,0H2.4","symbolStrokeWidth":1.5,"rowPadding":1.3,"labelOffset":15,
      "labelExpr":"datum.value=='ee'?'e⁺e⁻':datum.value=='pi0'?'π⁰ → γee':datum.value=='eta'?'η → γee':datum.value=='etap'?'η′ → γee':datum.value=='cc'?'cc̄ → ee':'Drell-Yan'"}}}},
  {"data":{"name":"sData"},"transform":[{"filter":"isValid(datum.lo)"}],"mark":{"type":"rule","color":"black","strokeWidth":1,"clip":true},
   "encoding":{"x":{"field":"x","type":"quantitative"},"y":{"field":"lo","type":"quantitative"},"y2":{"field":"hi"}}},
  {"data":{"name":"sData"},"transform":[{"filter":"isValid(datum.xlo)"}],"mark":{"type":"rule","color":"black","strokeWidth":1,"clip":true},
   "encoding":{"x":{"field":"xlo","type":"quantitative"},"x2":{"field":"xhi"},"y":{"field":"y","type":"quantitative"}}},
  {"data":{"name":"sData"},"mark":{"type":"square","color":"#22cc22","size":100,"opacity":1,"clip":true},
   "encoding":{"x":{"field":"x","type":"quantitative"},"y":{"field":"y","type":"quantitative"}}},
  {"data":{"name":"sData"},"mark":{"type":"circle","color":"#0a0aff","size":48,"opacity":1,"clip":true},
   "encoding":{"x":{"field":"x","type":"quantitative"},"y":{"field":"y","type":"quantitative"}}},
  {"data":{"values":[{}]},"mark":{"type":"text","fontSize":11.5,"align":"left","baseline":"middle"},"encoding":{"x":{"datum":1.54},"y":{"datum":0.0165},"text":{"value":"Au+Au 0-80% @ 19.6 GeV"}}},
  {"data":{"values":[{}]},"mark":{"type":"text","fontSize":9.5,"align":"left","baseline":"middle"},"encoding":{"x":{"datum":1.64},"y":{"datum":0.0058},"text":{"value":"pₜᵉ>0.2 GeV/c |ηᵉ|<1   |yₑₑ|<1"}}}
 ]},
 {"width":304,"height":75,"layer":[
  {"data":{"name":"sRBand"},"mark":{"type":"area","color":"#c0c0c0","opacity":0.9,"stroke":"#777777","strokeWidth":0.5,"clip":true},
   "encoding":{
    "x":{"field":"x","type":"quantitative","scale":{"domain":[0,3.42],"nice":false,"zero":false},"axis":{"values":[0,1,2,3],"format":"d","title":"Mₑₑ (GeV/c²)","titleAnchor":"end","titleFontSize":13,"titlePadding":4,"labelFontSize":11.5,"labelPadding":9,"labelOverlap":false,"tickSize":-9}},
    "y":{"field":"lo","type":"quantitative","scale":{"type":"log","domain":[0.23,32],"nice":false},"axis":{"values":[0.3,0.4,0.5,0.6,0.7,0.8,0.9,1,2,3,4,5,6,7,8,9,10,20,30],"title":"Data/Cocktail","titleFontSize":14,"titlePadding":13,"labelFontSize":11.5,"labelPadding":13,"labelOverlap":false,"labelExpr":"datum.value==1?'1':datum.value==10?'10':''","tickSize":{"condition":{"test":"datum.value==1||datum.value==10","value":-8},"value":-4}}},
    "y2":{"field":"hi"}}},
  {"data":{"values":[{}]},"mark":{"type":"rule","color":"black","strokeWidth":1,"strokeDash":[4,3]},"encoding":{"y":{"datum":1}}},
  {"data":{"name":"sRCurve"},"mark":{"type":"line","color":"#ff00ff","strokeWidth":1.5,"clip":true},"encoding":{"x":{"field":"x","type":"quantitative"},"y":{"field":"r","type":"quantitative"}}},
  {"data":{"name":"sRatio"},"transform":[{"filter":"isValid(datum.lo)"}],"mark":{"type":"rule","color":"black","strokeWidth":1,"clip":true},
   "encoding":{"x":{"field":"x","type":"quantitative"},"y":{"field":"lo","type":"quantitative"},"y2":{"field":"hi"}}},
  {"data":{"name":"sRatio"},"transform":[{"filter":"isValid(datum.xlo)"}],"mark":{"type":"rule","color":"black","strokeWidth":1,"clip":true},
   "encoding":{"x":{"field":"xlo","type":"quantitative"},"x2":{"field":"xhi"},"y":{"field":"r","type":"quantitative"}}},
  {"data":{"name":"sRatio"},"mark":{"type":"square","color":"#22cc22","size":100,"opacity":1,"clip":true},
   "encoding":{"x":{"field":"x","type":"quantitative"},"y":{"field":"r","type":"quantitative"}}},
  {"data":{"name":"sRatio"},"mark":{"type":"circle","color":"#0a0aff","size":48,"opacity":1,"clip":true},
   "encoding":{"x":{"field":"x","type":"quantitative"},"y":{"field":"r","type":"quantitative"}}},
  {"data":{"values":[{}]},"mark":{"type":"text","font":"DejaVu Sans","fontSize":26,"align":"right","baseline":"alphabetic","color":"#1f54ab"},"encoding":{"x":{"datum":1.19},"y":{"datum":0.00112},"text":{"value":"(b)"}}},
  {"data":{"values":[{}]},"mark":{"type":"text","font":"DejaVu Sans","fontSize":26,"align":"left","baseline":"alphabetic","color":"black"},"encoding":{"x":{"datum":1.396},"y":{"datum":0.00112},"text":{"value":"STAR"}}}
 ]}
]},
{"width":306,"height":305,"view":{"stroke":"#666666"},"layer":[
  {"data":{"name":"hData"},"mark":{"type":"rect","fill":"transparent","stroke":"#9a9a9a","strokeWidth":0.9,"clip":true},
   "encoding":{
    "x":{"field":"x1","type":"quantitative","scale":{"domain":[0.13,0.906],"nice":false,"zero":false},"axis":{"values":[0.2,0.4,0.6,0.8],"format":".1f","title":"Mₑₑ (GeV c⁻²)","titleFontSize":10,"titlePadding":5,"labelFontSize":9.5,"labelPadding":12,"labelOverlap":false,"tickColor":"#666666","tickSize":-7}},
    "x2":{"field":"x2"},
    "y":{"field":"lo","type":"quantitative","scale":{"type":"log","domain":[2.04e-7,0.0042],"nice":false},"axis":{"values":[3e-7,4e-7,5e-7,6e-7,7e-7,8e-7,9e-7,1e-6,2e-6,3e-6,4e-6,5e-6,6e-6,7e-6,8e-6,9e-6,1e-5,2e-5,3e-5,4e-5,5e-5,6e-5,7e-5,8e-5,9e-5,0.0001,0.0002,0.0003,0.0004,0.0005,0.0006,0.0007,0.0008,0.0009,0.001,0.002,0.003,0.004],"title":"1/Nπ⁰ dN⁴π ᵉˣᶜᵉˢˢ/dMₑₑ [(GeV c⁻²)⁻¹]","titleFontSize":9.5,"titlePadding":9,"labelFontSize":9.5,"labelPadding":16,"labelOverlap":false,"tickColor":"#666666","labelExpr":"abs(log(datum.value)/LN10-round(log(datum.value)/LN10))>0.01?'':['10⁻⁶','10⁻⁵','10⁻⁴','10⁻³'][round(log(datum.value)/LN10)+6]","tickSize":{"condition":{"test":"abs(log(datum.value)/LN10-round(log(datum.value)/LN10))<0.01","value":-7},"value":-4}}},
    "y2":{"field":"hi"}}},
  {"data":{"name":"hData"},"transform":[{"filter":"isValid(datum.elo)"}],"mark":{"type":"rule","color":"#9a9a9a","strokeWidth":1,"clip":true},
   "encoding":{"x":{"field":"x","type":"quantitative"},"y":{"field":"elo","type":"quantitative"},"y2":{"field":"ehi"}}},
  {"data":{"name":"hVac"},"mark":{"type":"line","strokeWidth":1.3,"strokeDash":[9,4],"clip":true},
   "encoding":{"x":{"field":"x","type":"quantitative"},"y":{"field":"y","type":"quantitative"},
    "stroke":{"field":"s","type":"nominal","scale":{"domain":["vhsd","vsmash"],"range":["#2ca02c","#3344cc"]},
     "legend":{"orient":"none","legendX":77,"legendY":261.5,"title":null,"labelFontSize":9.5,"symbolSize":64,"symbolType":"M-1,0H3.6","symbolStrokeWidth":1.3,"symbolDash":[6,3],"rowPadding":6.1,"labelOffset":15,"labelExpr":"datum.value=='vhsd'?'HSD':'SMASH'"}}}},
  {"data":{"name":"hLines"},"mark":{"type":"line","strokeWidth":1.4,"clip":true},
   "encoding":{"x":{"field":"x","type":"quantitative"},"y":{"field":"y","type":"quantitative"},
    "color":{"field":"s","type":"nominal","scale":{"domain":["fra","gsi","smash","hsd"],"range":["#a23be0","#3b9cf0","#2b2ba8","#2ca02c"]},
     "legend":{"orient":"none","legendX":190.7,"legendY":100.5,"title":null,"labelFontSize":9.5,"symbolSize":64,"symbolType":"M-1,0H3.6","symbolStrokeWidth":1.5,"rowPadding":1.8,"labelOffset":13,"labelExpr":"datum.value=='fra'?'CG FRA':datum.value=='gsi'?'CG GSI–Texas A&M':datum.value=='smash'?'CG SMASH':'HSD'"}}}},
  {"data":{"name":"hFit"},"mark":{"type":"line","color":"#ff2a55","strokeWidth":2.5,"clip":true},"encoding":{"x":{"field":"x","type":"quantitative"},"y":{"field":"y","type":"quantitative"}}},
  {"data":{"name":"hData"},"mark":{"type":"square","color":"black","size":45,"opacity":1,"clip":true},
   "encoding":{"x":{"field":"x","type":"quantitative"},"y":{"field":"y","type":"quantitative"}}},
  {"data":{"values":[{}]},"mark":{"type":"text","fontSize":9.5,"align":"left","baseline":"middle"},"encoding":{"x":{"datum":0.401},"y":{"datum":0.00221},"text":{"value":"Au + Au √sₙₙ = 2.42 GeV 0–40%"}}},
  {"data":{"values":[{}]},"mark":{"type":"text","fontSize":9.5,"align":"left","baseline":"middle","color":"#8a8a8a"},"encoding":{"x":{"datum":0.401},"y":{"datum":0.00151},"text":{"value":"NN ref., η, ω subtracted"}}},
  {"data":{"values":[{}]},"mark":{"type":"text","fontSize":9.5,"align":"left","baseline":"middle","color":"#ff2a55"},"encoding":{"x":{"datum":0.401},"y":{"datum":0.00098},"text":{"value":"kT = 71.8 ± 2.1 MeV"}}},
  {"data":{"values":[{}]},"mark":{"type":"text","fontSize":9.5,"align":"left","baseline":"middle"},"encoding":{"x":{"datum":0.665},"y":{"datum":0.00019},"text":{"value":"In-medium ρ:"}}},
  {"data":{"values":[{}]},"mark":{"type":"text","fontSize":9.5,"align":"left","baseline":"middle"},"encoding":{"x":{"datum":0.667},"y":{"datum":2.7e-5},"text":{"value":"ρ coll. broad. + Δ +"}}},
  {"data":{"values":[{}]},"mark":{"type":"text","fontSize":9.5,"align":"left","baseline":"middle"},"encoding":{"x":{"datum":0.667},"y":{"datum":1.87e-5},"text":{"value":"bremss. (NN, πN)"}}},
  {"data":{"values":[{}]},"mark":{"type":"text","fontSize":9.5,"align":"left","baseline":"middle"},"encoding":{"x":{"datum":0.384},"y":{"datum":9.8e-7},"text":{"value":"Vacuum ρ:"}}},
  {"data":{"values":[{}]},"mark":{"type":"text","font":"DejaVu Sans","fontSize":26,"align":"right","baseline":"alphabetic","color":"#1f54ab"},"encoding":{"x":{"datum":0.371},"y":{"datum":1.92e-8},"text":{"value":"(c)"}}},
  {"data":{"values":[{}]},"mark":{"type":"text","font":"DejaVu Sans","fontSize":26,"align":"left","baseline":"alphabetic","color":"black"},"encoding":{"x":{"datum":0.401},"y":{"datum":1.92e-8},"text":{"value":"HADES"}}}
]}
]}
]
}
